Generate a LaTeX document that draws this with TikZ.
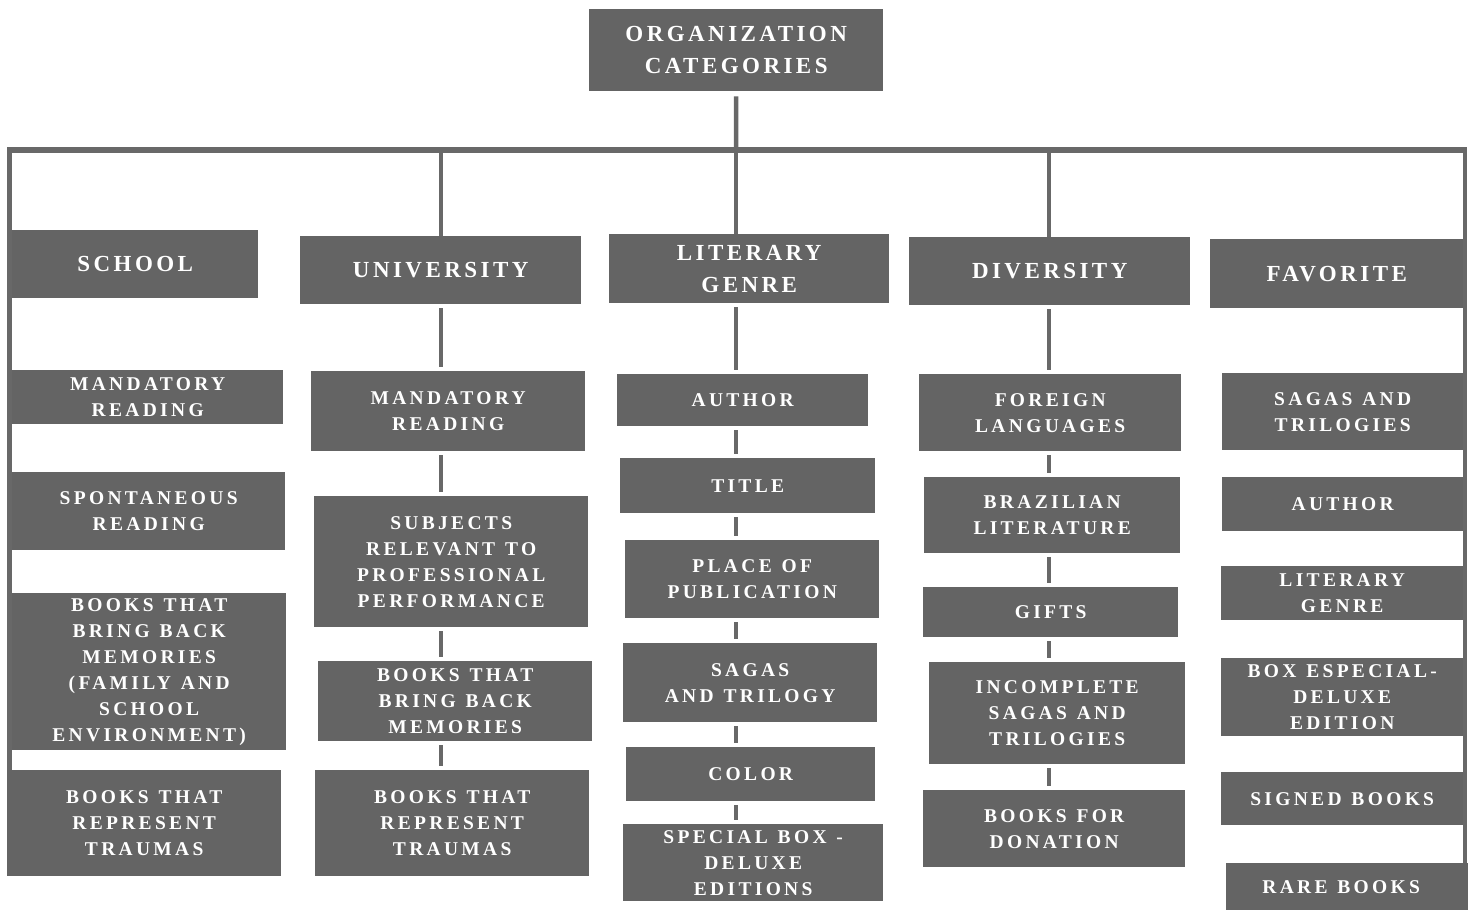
\documentclass[tikz,border=0pt]{standalone}
\usepackage{fontspec}
\setmainfont{Liberation Serif}
\newfontfamily\fBig[LetterSpace=15,WordSpace=1.3]{Liberation Serif}
\newfontfamily\fSmall[LetterSpace=17,WordSpace=1.2]{Liberation Serif}
\usetikzlibrary{backgrounds}
\definecolor{boxgray}{HTML}{646464}
\definecolor{linegray}{HTML}{686868}
\tikzset{
  box/.style={fill=boxgray, text=white, inner sep=0pt, align=center, anchor=north west},
  big/.style={font=\fBig\bfseries\fontsize{23}{32}\selectfont},
  small/.style={font=\fSmall\bfseries\fontsize{19.5}{26}\selectfont},
  con/.style={draw=linegray, line width=4.5pt},
  bar/.style={draw=linegray, line width=5.5pt},
  link/.style={con, shorten <=4pt, shorten >=4pt}
}
\newcommand\bx[7][small]{\node[box,#1,minimum width={(#5-#3)*1pt},minimum height={(#6-#4)*1pt}] (#2) at (#3,#4) {#7};}
\begin{document}
\begin{tikzpicture}[x=1pt,y=-1pt]
\useasboundingbox (0,0) rectangle (1475,910);
% root
\bx[big]{root}{589}{9}{883}{91}{ORGANIZATION\\CATEGORIES}
% level 1
\bx[big]{s0}{12}{230}{258}{298}{SCHOOL}
\bx[big]{u0}{300}{236}{581}{304}{UNIVERSITY}
\bx[big]{l0}{609}{234}{889}{303}{LITERARY\\GENRE}
\bx[big]{d0}{909}{237}{1190}{305}{DIVERSITY}
\bx[big]{f0}{1210}{239}{1463}{308}{FAVORITE}
% school
\bx{s1}{12}{370}{283}{424}{MANDATORY\\READING}
\bx{s2}{12}{472}{285}{550}{SPONTANEOUS\\READING}
\bx{s3}{12}{593}{286}{750}{BOOKS THAT\\BRING BACK\\MEMORIES\\(FAMILY AND\\SCHOOL\\ENVIRONMENT)}
\bx{s4}{7}{770}{281}{876}{BOOKS THAT\\REPRESENT\\TRAUMAS}
% university
\bx{u1}{311}{371}{585}{451}{MANDATORY\\READING}
\bx{u2}{314}{496}{588}{627}{SUBJECTS\\RELEVANT TO\\PROFESSIONAL\\PERFORMANCE}
\bx{u3}{318}{661}{592}{741}{BOOKS THAT\\BRING BACK\\MEMORIES}
\bx{u4}{315}{770}{589}{876}{BOOKS THAT\\REPRESENT\\TRAUMAS}
% literary genre
\bx{l1}{617}{374}{868}{426}{AUTHOR}
\bx{l2}{620}{458}{875}{513}{TITLE}
\bx{l3}{625}{540}{879}{618}{PLACE OF\\PUBLICATION}
\bx{l4}{623}{643}{877}{722}{SAGAS\\AND TRILOGY}
\bx{l5}{626}{747}{875}{801}{COLOR}
\bx{l6}{623}{824}{883}{901}{SPECIAL BOX -\\DELUXE\\EDITIONS}
% diversity
\bx{d1}{919}{374}{1181}{451}{FOREIGN\\LANGUAGES}
\bx{d2}{924}{477}{1180}{553}{BRAZILIAN\\LITERATURE}
\bx{d3}{923}{587}{1178}{637}{GIFTS}
\bx{d4}{929}{662}{1185}{764}{INCOMPLETE\\SAGAS AND\\TRILOGIES}
\bx{d5}{923}{790}{1185}{867}{BOOKS FOR\\DONATION}
% favorite
\bx{f1}{1222}{373}{1463}{450}{SAGAS AND\\TRILOGIES}
\bx{f2}{1222}{477}{1463}{531}{AUTHOR}
\bx{f3}{1221}{566}{1463}{620}{LITERARY\\GENRE}
\bx{f4}{1221}{658}{1463}{736}{BOX ESPECIAL-\\DELUXE\\EDITION}
\bx{f5}{1221}{772}{1463}{825}{SIGNED BOOKS}
\bx{f6}{1226}{863}{1468}{910}{RARE BOOKS\hspace*{12pt}}
% connectors
\coordinate (bL) at (7,150);
\coordinate (bR) at (1467,150);
\coordinate (lx) at (9.5,150);
\coordinate (rx) at (1465,150);
\coordinate (uA) at (441,150);
\coordinate (cT) at (736,150);
\coordinate (dA) at (1049,150);
\begin{pgfonlayer}{background}
\draw[bar] (bL) -- (bR);
\draw[con, shorten <=5pt] (root.south) -- (cT);
\draw[con] (lx) -- (lx |- s4.north);
\draw[con] (rx) -- (rx |- f6.north);
\draw[con] (uA) -- (uA |- u0.north);
\draw[con] (cT) -- (cT |- l0.north);
\draw[con] (dA) -- (dA |- d0.north);
\foreach \a/\b in {u0/u1,u1/u2,u2/u3,u3/u4}
  \draw[link] (uA |- \a.south) -- (uA |- \b.north);
\foreach \a/\b in {l0/l1,l1/l2,l2/l3,l3/l4,l4/l5,l5/l6}
  \draw[link] (cT |- \a.south) -- (cT |- \b.north);
\foreach \a/\b in {d0/d1,d1/d2,d2/d3,d3/d4,d4/d5}
  \draw[link] (dA |- \a.south) -- (dA |- \b.north);
\end{pgfonlayer}
\end{tikzpicture}
\end{document}
